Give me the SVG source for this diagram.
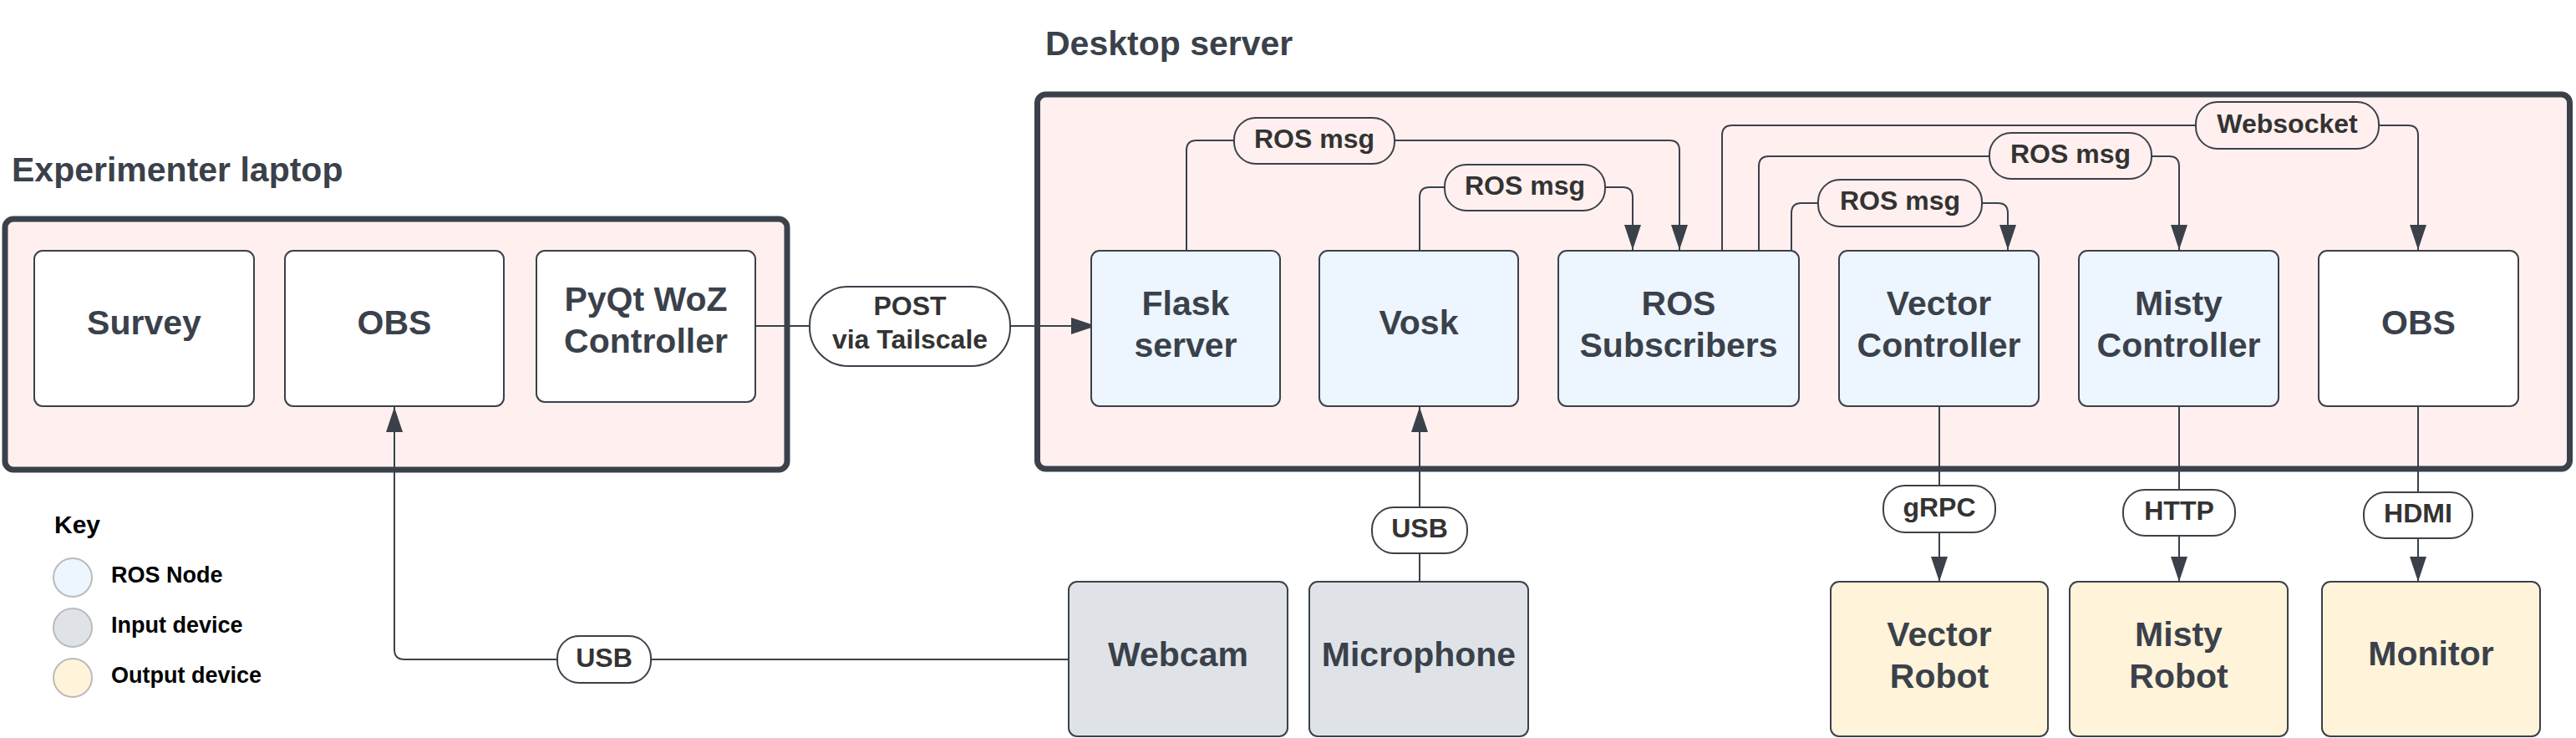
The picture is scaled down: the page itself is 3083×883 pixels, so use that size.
<svg xmlns="http://www.w3.org/2000/svg" width="3083" height="883" viewBox="0 0 3083 883">
<defs>
<style>
text{font-family:"Liberation Sans",Arial,Helvetica,sans-serif;font-weight:bold;}
.head{font-size:41px;fill:#3a414a;}
.nl{font-size:41px;fill:#3a414a;text-anchor:middle;}
.lt{font-size:32px;fill:#333333;text-anchor:middle;}
.key{font-size:27px;fill:#000000;}
.cont{fill:#fff0ef;stroke:#3a414a;stroke-width:7;}
.box{stroke:#3a414a;stroke-width:2;}
.white{fill:#ffffff;}
.blue{fill:#edf5ff;}
.gray{fill:#dfe3e8;}
.yellow{fill:#fff3d9;}
.lbl{stroke:#3a414a;stroke-width:2;}
.lin{fill:#fff0ef;}
.lout{fill:#ffffff;}
.conn{fill:none;stroke:#3a414a;stroke-width:2;}
.kc{stroke:#bbbbbb;stroke-width:2;}
</style>
<marker id="arr" markerWidth="30" markerHeight="20" refX="30" refY="10" orient="auto" markerUnits="userSpaceOnUse">
<path d="M0,0 L30,10 L0,20 Z" fill="#3a414a"/>
</marker>
</defs>
<rect width="3083" height="883" fill="#ffffff"/>

<g id="experimenter-laptop">
<text class="head" x="14" y="217">Experimenter laptop</text>
<rect class="cont" x="6" y="262" width="936" height="300" rx="10"/>
</g>
<g id="desktop-server">
<text class="head" x="1251" y="66">Desktop server</text>
<rect class="cont" x="1241.5" y="113" width="1834" height="448" rx="10"/>
</g>

<g id="connectors">
<path class="conn" d="M904,390 H1312" marker-end="url(#arr)"/>
<path class="conn" d="M1420,300 V180 Q1420,168 1432,168 H1998 Q2010,168 2010,180 V299" marker-end="url(#arr)"/>
<path class="conn" d="M1699,300 V236 Q1699,224 1711,224 H1942 Q1954,224 1954,236 V299" marker-end="url(#arr)"/>
<path class="conn" d="M2061,300 V162 Q2061,150 2073,150 H2882 Q2894,150 2894,162 V299" marker-end="url(#arr)"/>
<path class="conn" d="M2105,300 V199 Q2105,187 2117,187 H2596 Q2608,187 2608,199 V299" marker-end="url(#arr)"/>
<path class="conn" d="M2144,300 V255 Q2144,243 2156,243 H2391 Q2403,243 2403,255 V299" marker-end="url(#arr)"/>
<path class="conn" d="M2321,486 V696" marker-end="url(#arr)"/>
<path class="conn" d="M2608,486 V696" marker-end="url(#arr)"/>
<path class="conn" d="M2894,486 V696" marker-end="url(#arr)"/>
<path class="conn" d="M1699,696 V487" marker-end="url(#arr)"/>
<path class="conn" d="M1279,789 H484 Q472,789 472,777 V487" marker-end="url(#arr)"/>

<rect class="lbl lout" x="969" y="343" width="240" height="95" rx="46"/>
<text class="lt" x="1089" y="377">POST</text>
<text class="lt" x="1089" y="417">via Tailscale</text>

<rect class="lbl lin" x="1477" y="141" width="192" height="55" rx="26"/>
<text class="lt" x="1573" y="177">ROS msg</text>
<rect class="lbl lin" x="1729" y="197" width="192" height="55" rx="26"/>
<text class="lt" x="1825" y="233">ROS msg</text>
<rect class="lbl lin" x="2628" y="122" width="219" height="56" rx="26"/>
<text class="lt" x="2737.5" y="159">Websocket</text>
<rect class="lbl lin" x="2381" y="159" width="194" height="55" rx="26"/>
<text class="lt" x="2478" y="195">ROS msg</text>
<rect class="lbl lin" x="2176" y="215" width="196" height="56" rx="26"/>
<text class="lt" x="2274" y="251">ROS msg</text>

<rect class="lbl lout" x="2254" y="581" width="134" height="56" rx="26"/>
<text class="lt" x="2321" y="618">gRPC</text>
<rect class="lbl lout" x="2541" y="586" width="134" height="55" rx="26"/>
<text class="lt" x="2608" y="622">HTTP</text>
<rect class="lbl lout" x="2829" y="589" width="130" height="55" rx="26"/>
<text class="lt" x="2894" y="625">HDMI</text>
<rect class="lbl lout" x="1642" y="607" width="114" height="55" rx="26"/>
<text class="lt" x="1699" y="643">USB</text>
<rect class="lbl lout" x="667" y="761" width="112" height="56" rx="26"/>
<text class="lt" x="723" y="798">USB</text>
</g>

<g id="survey"><rect class="box white" x="41" y="300" width="263" height="186" rx="10"/><text class="nl" x="172.5" y="400">Survey</text></g>
<g id="obs-laptop"><rect class="box white" x="341" y="300" width="262" height="186" rx="10"/><text class="nl" x="472" y="400">OBS</text></g>
<g id="pyqt-woz"><rect class="box white" x="642" y="300" width="262" height="181" rx="10"/><text class="nl" x="773" y="372">PyQt WoZ</text><text class="nl" x="773" y="422">Controller</text></g>

<g id="flask-server"><rect class="box blue" x="1306" y="300" width="226" height="186" rx="10"/><text class="nl" x="1419" y="377">Flask</text><text class="nl" x="1419" y="427">server</text></g>
<g id="vosk"><rect class="box blue" x="1579" y="300" width="238" height="186" rx="10"/><text class="nl" x="1698" y="400">Vosk</text></g>
<g id="ros-subscribers"><rect class="box blue" x="1865" y="300" width="288" height="186" rx="10"/><text class="nl" x="2009" y="377">ROS</text><text class="nl" x="2009" y="427">Subscribers</text></g>
<g id="vector-controller"><rect class="box blue" x="2201" y="300" width="239" height="186" rx="10"/><text class="nl" x="2320.5" y="377">Vector</text><text class="nl" x="2320.5" y="427">Controller</text></g>
<g id="misty-controller"><rect class="box blue" x="2488" y="300" width="239" height="186" rx="10"/><text class="nl" x="2607.5" y="377">Misty</text><text class="nl" x="2607.5" y="427">Controller</text></g>
<g id="obs-desktop"><rect class="box white" x="2775" y="300" width="239" height="186" rx="10"/><text class="nl" x="2894.5" y="400">OBS</text></g>

<g id="webcam"><rect class="box gray" x="1279" y="696" width="262" height="185" rx="10"/><text class="nl" x="1410" y="797">Webcam</text></g>
<g id="microphone"><rect class="box gray" x="1567" y="696" width="262" height="185" rx="10"/><text class="nl" x="1698" y="797">Microphone</text></g>
<g id="vector-robot"><rect class="box yellow" x="2191" y="696" width="260" height="185" rx="10"/><text class="nl" x="2321" y="773">Vector</text><text class="nl" x="2321" y="823">Robot</text></g>
<g id="misty-robot"><rect class="box yellow" x="2477" y="696" width="261" height="185" rx="10"/><text class="nl" x="2607.5" y="773">Misty</text><text class="nl" x="2607.5" y="823">Robot</text></g>
<g id="monitor"><rect class="box yellow" x="2779" y="696" width="261" height="185" rx="10"/><text class="nl" x="2909.5" y="796">Monitor</text></g>

<g id="key">
<text class="key" x="65" y="638" style="font-size:30px">Key</text>
<circle class="kc blue" cx="87" cy="691" r="23"/>
<text class="key" x="133" y="697">ROS Node</text>
<circle class="kc gray" cx="87" cy="751" r="23"/>
<text class="key" x="133" y="757">Input device</text>
<circle class="kc yellow" cx="87" cy="811" r="23"/>
<text class="key" x="133" y="817">Output device</text>
</g>
</svg>
